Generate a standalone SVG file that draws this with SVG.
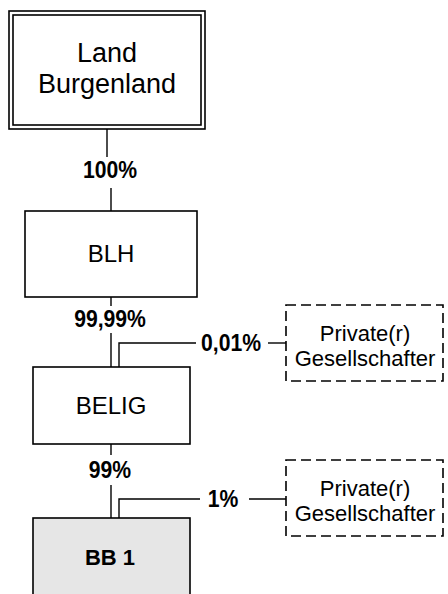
<svg xmlns="http://www.w3.org/2000/svg" width="448" height="594" viewBox="0 0 448 594">
<style>
.box{fill:#ffffff;stroke:#000000;stroke-width:1.6}
.dash{fill:#ffffff;stroke:#000000;stroke-width:1.6;stroke-dasharray:10,5}
.ln{fill:none;stroke:#000000;stroke-width:1.4}
.t{font-family:"Liberation Sans",Arial,sans-serif;fill:#000000;text-anchor:middle}
.lb{font-family:"Liberation Sans",Arial,sans-serif;font-weight:bold;font-size:23.5px;fill:#000000;text-anchor:middle}
</style>
<rect width="448" height="594" fill="#ffffff"/>
<g id="connectors">
<path class="ln" d="M107,129 V157"/>
<path class="ln" d="M111,188 V211"/>
<path class="ln" d="M111,297 V306"/>
<path class="ln" d="M111,333 V367"/>
<path class="ln" d="M119,367 V343 H196"/>
<path class="ln" d="M268,343 H286"/>
<path class="ln" d="M111,444 V455"/>
<path class="ln" d="M111,485 V518"/>
<path class="ln" d="M119,518 V499 H200"/>
<path class="ln" d="M249,499 H286"/>
<text class="lb" transform="translate(110,178) scale(0.9,1)">100%</text>
<text class="lb" transform="translate(110,327) scale(0.9,1)">99,99%</text>
<text class="lb" transform="translate(231,351) scale(0.9,1)">0,01%</text>
<text class="lb" transform="translate(110,478) scale(0.9,1)">99%</text>
<text class="lb" transform="translate(223,507) scale(0.9,1)">1%</text>
</g>
<g id="land">
<rect class="box" x="9" y="11" width="196" height="118"/>
<rect class="box" x="13" y="15" width="188" height="110"/>
<text class="t" x="107" y="62" font-size="27">Land</text>
<text class="t" x="107" y="93" font-size="27">Burgenland</text>
</g>
<g id="blh">
<rect class="box" x="25" y="211" width="172" height="86"/>
<text class="t" x="111" y="262" font-size="24">BLH</text>
</g>
<g id="private1">
<rect class="dash" x="286" y="305" width="157" height="76"/>
<text class="t" x="365" y="341" font-size="22">Private(r)</text>
<text class="t" x="365" y="366" font-size="22">Gesellschafter</text>
</g>
<g id="belig">
<rect class="box" x="33" y="367" width="157" height="77"/>
<text class="t" x="111" y="414" font-size="24">BELIG</text>
</g>
<g id="private2">
<rect class="dash" x="286" y="460" width="157" height="76"/>
<text class="t" x="365" y="496" font-size="22">Private(r)</text>
<text class="t" x="365" y="521" font-size="22">Gesellschafter</text>
</g>
<g id="bb1">
<rect class="box" x="33" y="518" width="157" height="90" style="fill:#e6e6e6"/>
<text class="t" x="110" y="565" font-size="22" font-weight="bold">BB 1</text>
</g>
</svg>
